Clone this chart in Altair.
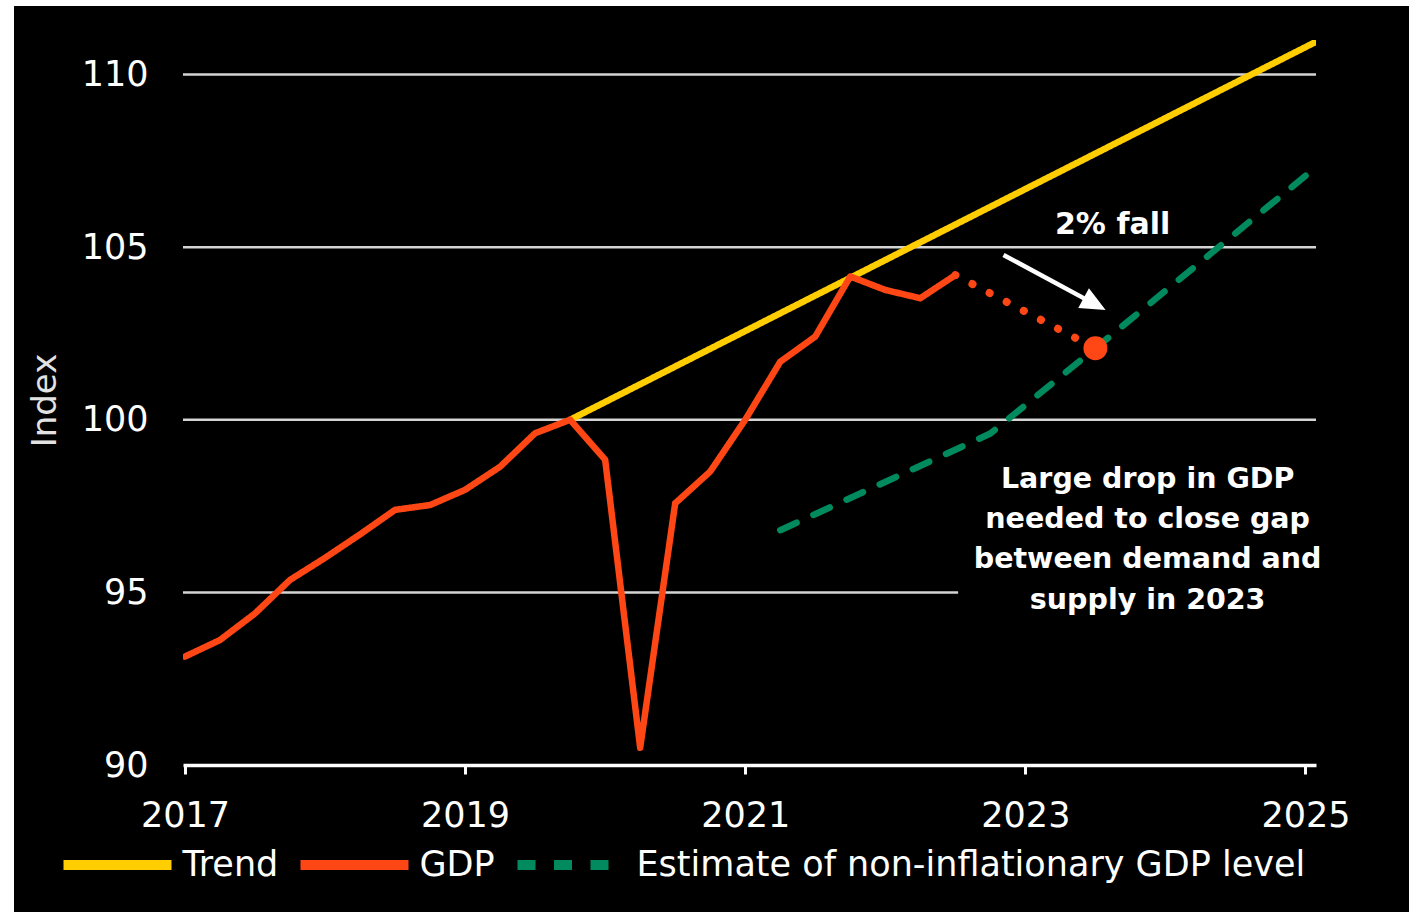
import altair as alt
import pandas as pd

# ---- palette / type -------------------------------------------------------
YELLOW = "#FFCD00"
RED = "#FF4716"
GREEN = "#008A5E"
GRID = "#d4d4d4"
FONT = "DejaVu Sans"

# ---- data -----------------------------------------------------------------
# Quarterly GDP index (2019 Q4 = 100)
gdp_years = [2017.0, 2017.25, 2017.5, 2017.75, 2018.0, 2018.25, 2018.5, 2018.75,
             2019.0, 2019.25, 2019.5, 2019.75, 2020.0, 2020.25, 2020.5, 2020.75,
             2021.0, 2021.25, 2021.5, 2021.75, 2022.0, 2022.25, 2022.5]
gdp_values = [93.14, 93.62, 94.39, 95.36, 96.0, 96.68, 97.39, 97.53,
              97.97, 98.64, 99.61, 100.0, 98.84, 90.5, 97.58, 98.5,
              100.0, 101.68, 102.41, 104.15, 103.76, 103.52, 104.19]

# Pre-pandemic trend
trend_years = [2019.75, 2025.1]
trend_values = [100.0, 111.0]

# Estimate of non-inflationary GDP level
estimate_years = [2021.25, 2022.75, 2023.5, 2025.1]
estimate_values = [96.8, 99.6, 102.07, 107.4]

# Required fall from latest GDP to the non-inflationary level
fall_years = [2022.5, 2023.5]
fall_values = [104.19, 102.07]

series_names = ["Trend", "GDP", "Estimate of non-inflationary GDP level"]

x_domain = [2016.986, 2025.075]
y_domain = [90, 111]
x_ticks = [2017, 2019, 2021, 2023, 2025]
y_ticks = [90, 95, 100, 105, 110]
grid_levels = [95, 100, 105, 110]
grid_ends = [2022.52, 2025.075, 2025.075, 2025.075]

# annotation anchors (data units)
fall_label = {"x": [2023.623], "y": [105.65], "label": ["2% fall"]}
gap_label = {"x": [2023.873], "y": [98.29],
             "label": ["Large drop in GDP\nneeded to close gap\nbetween demand and\nsupply in 2023"]}
arrow_shaft = {"x": [2022.844], "y": [104.774], "x2": [2023.479], "y2": [103.386]}
arrow_tip = {"x": [2023.573], "y": [103.18]}

# ---- frames ---------------------------------------------------------------
trend_df = pd.DataFrame({"x": trend_years, "y": trend_values, "series": "Trend"})
gdp_df = pd.DataFrame({"x": gdp_years, "y": gdp_values, "series": "GDP"})
est_df = pd.DataFrame({"x": estimate_years, "y": estimate_values,
                       "series": "Estimate of non-inflationary GDP level"})
fall_df = pd.DataFrame({"x": fall_years, "y": fall_values})
end_df = pd.DataFrame({"x": fall_years[-1:], "y": fall_values[-1:]})
grid_df = pd.DataFrame({"y": grid_levels, "x": [x_domain[0]] * len(grid_levels),
                        "x_end": grid_ends})

# ---- shared encodings -----------------------------------------------------
x_axis = alt.Axis(values=x_ticks, format="d", title=None, grid=False,
                  domain=True, domainColor="white", domainWidth=3.5,
                  ticks=True, tickColor="white", tickWidth=3, tickSize=9,
                  labelFont=FONT, labelFontSize=35, labelColor="white",
                  labelPadding=24, labelFlush=False, labelOverlap=False, zindex=1)
y_axis = alt.Axis(values=y_ticks, title="Index", grid=False, domain=False,
                  ticks=False, tickSize=0, labelFont=FONT, labelFontSize=35,
                  labelColor="white", labelPadding=35, labelFlush=False,
                  titleFont=FONT, titleFontSize=34, titleFontWeight="normal",
                  titleColor="#e2e2e2", titleAngle=270, titleX=-138, titleY=360,
                  titleAlign="center", titleBaseline="middle", zindex=1)

x_enc = alt.X("x:Q", scale=alt.Scale(domain=x_domain, nice=False, zero=False), axis=x_axis)
y_enc = alt.Y("y:Q", scale=alt.Scale(domain=y_domain, nice=False, zero=False), axis=y_axis)

legend = alt.Legend(title=None, orient="none", legendX=-124.5, legendY=766,
                    direction="horizontal", symbolType="stroke", symbolSize=11664,
                    symbolStrokeWidth=10, labelFont=FONT, labelFontSize=35,
                    labelColor="white", labelOffset=6, columnPadding=2,
                    padding=0, labelLimit=1000)
color_enc = alt.Color("series:N", scale=alt.Scale(domain=series_names,
                      range=[YELLOW, RED, GREEN]), legend=legend)
dash_enc = alt.StrokeDash("series:N", scale=alt.Scale(domain=series_names,
                          range=[[1, 0], [1, 0], [18, 18.5]]), legend=legend)

# ---- layers ---------------------------------------------------------------
backdrop = alt.Chart(pd.DataFrame({"k": [0]})).mark_rect(color="black").encode(
    x=alt.value(-169), x2=alt.value(1226), y=alt.value(-34), y2=alt.value(872))

grid = alt.Chart(grid_df).mark_rule(color=GRID, strokeWidth=2.5).encode(
    x=x_enc, x2="x_end:Q", y=y_enc)

line_style = dict(strokeWidth=6.5, strokeCap="round", strokeJoin="round", clip=True)

estimate = alt.Chart(est_df).mark_line(**line_style).encode(
    x=x_enc, y=y_enc, color=color_enc, strokeDash=dash_enc)
trend = alt.Chart(trend_df).mark_line(**line_style).encode(
    x=x_enc, y=y_enc, color=color_enc, strokeDash=dash_enc)
fall = alt.Chart(fall_df).mark_line(color=RED, strokeWidth=8, strokeCap="round",
                                    strokeDash=[0.1, 19.2]).encode(x=x_enc, y=y_enc)
gdp = alt.Chart(gdp_df).mark_line(**line_style).encode(
    x=x_enc, y=y_enc, color=color_enc, strokeDash=dash_enc)
end_dot = alt.Chart(end_df).mark_circle(color=RED, opacity=1, size=570).encode(
    x=x_enc, y=y_enc)

shaft = alt.Chart(pd.DataFrame(arrow_shaft)).mark_rule(color="white", strokeWidth=4.5).encode(
    x=x_enc, y=y_enc, x2="x2:Q", y2="y2:Q")
head = alt.Chart(pd.DataFrame(arrow_tip)).mark_point(
    shape="M0,0L-1,-0.45L-1,0.45Z", filled=True, size=2500, angle=28.3,
    color="white", opacity=1, strokeWidth=0).encode(x=x_enc, y=y_enc)

fall_text = alt.Chart(pd.DataFrame(fall_label)).mark_text(
    font=FONT, fontSize=30, fontWeight="bold", color="white",
    align="center", baseline="middle").encode(x=x_enc, y=y_enc, text="label:N")
gap_text = alt.Chart(pd.DataFrame(gap_label)).mark_text(
    font=FONT, fontSize=28.5, fontWeight="bold", color="white", align="center",
    baseline="middle", lineBreak="\n", lineHeight=40.3).encode(
    x=x_enc, y=y_enc, text="label:N")

chart = alt.layer(
    backdrop, grid, estimate, trend, fall, gdp, end_dot, shaft, head,
    fall_text, gap_text
).properties(
    width=1133, height=725,
    autosize=alt.AutoSizeParams(type="none"),
    padding={"left": 183, "top": 40, "right": 93, "bottom": 151},
    background="white",
).configure_view(stroke=None)

chart.save("out.html", embed_options={"renderer": "svg", "actions": False})
